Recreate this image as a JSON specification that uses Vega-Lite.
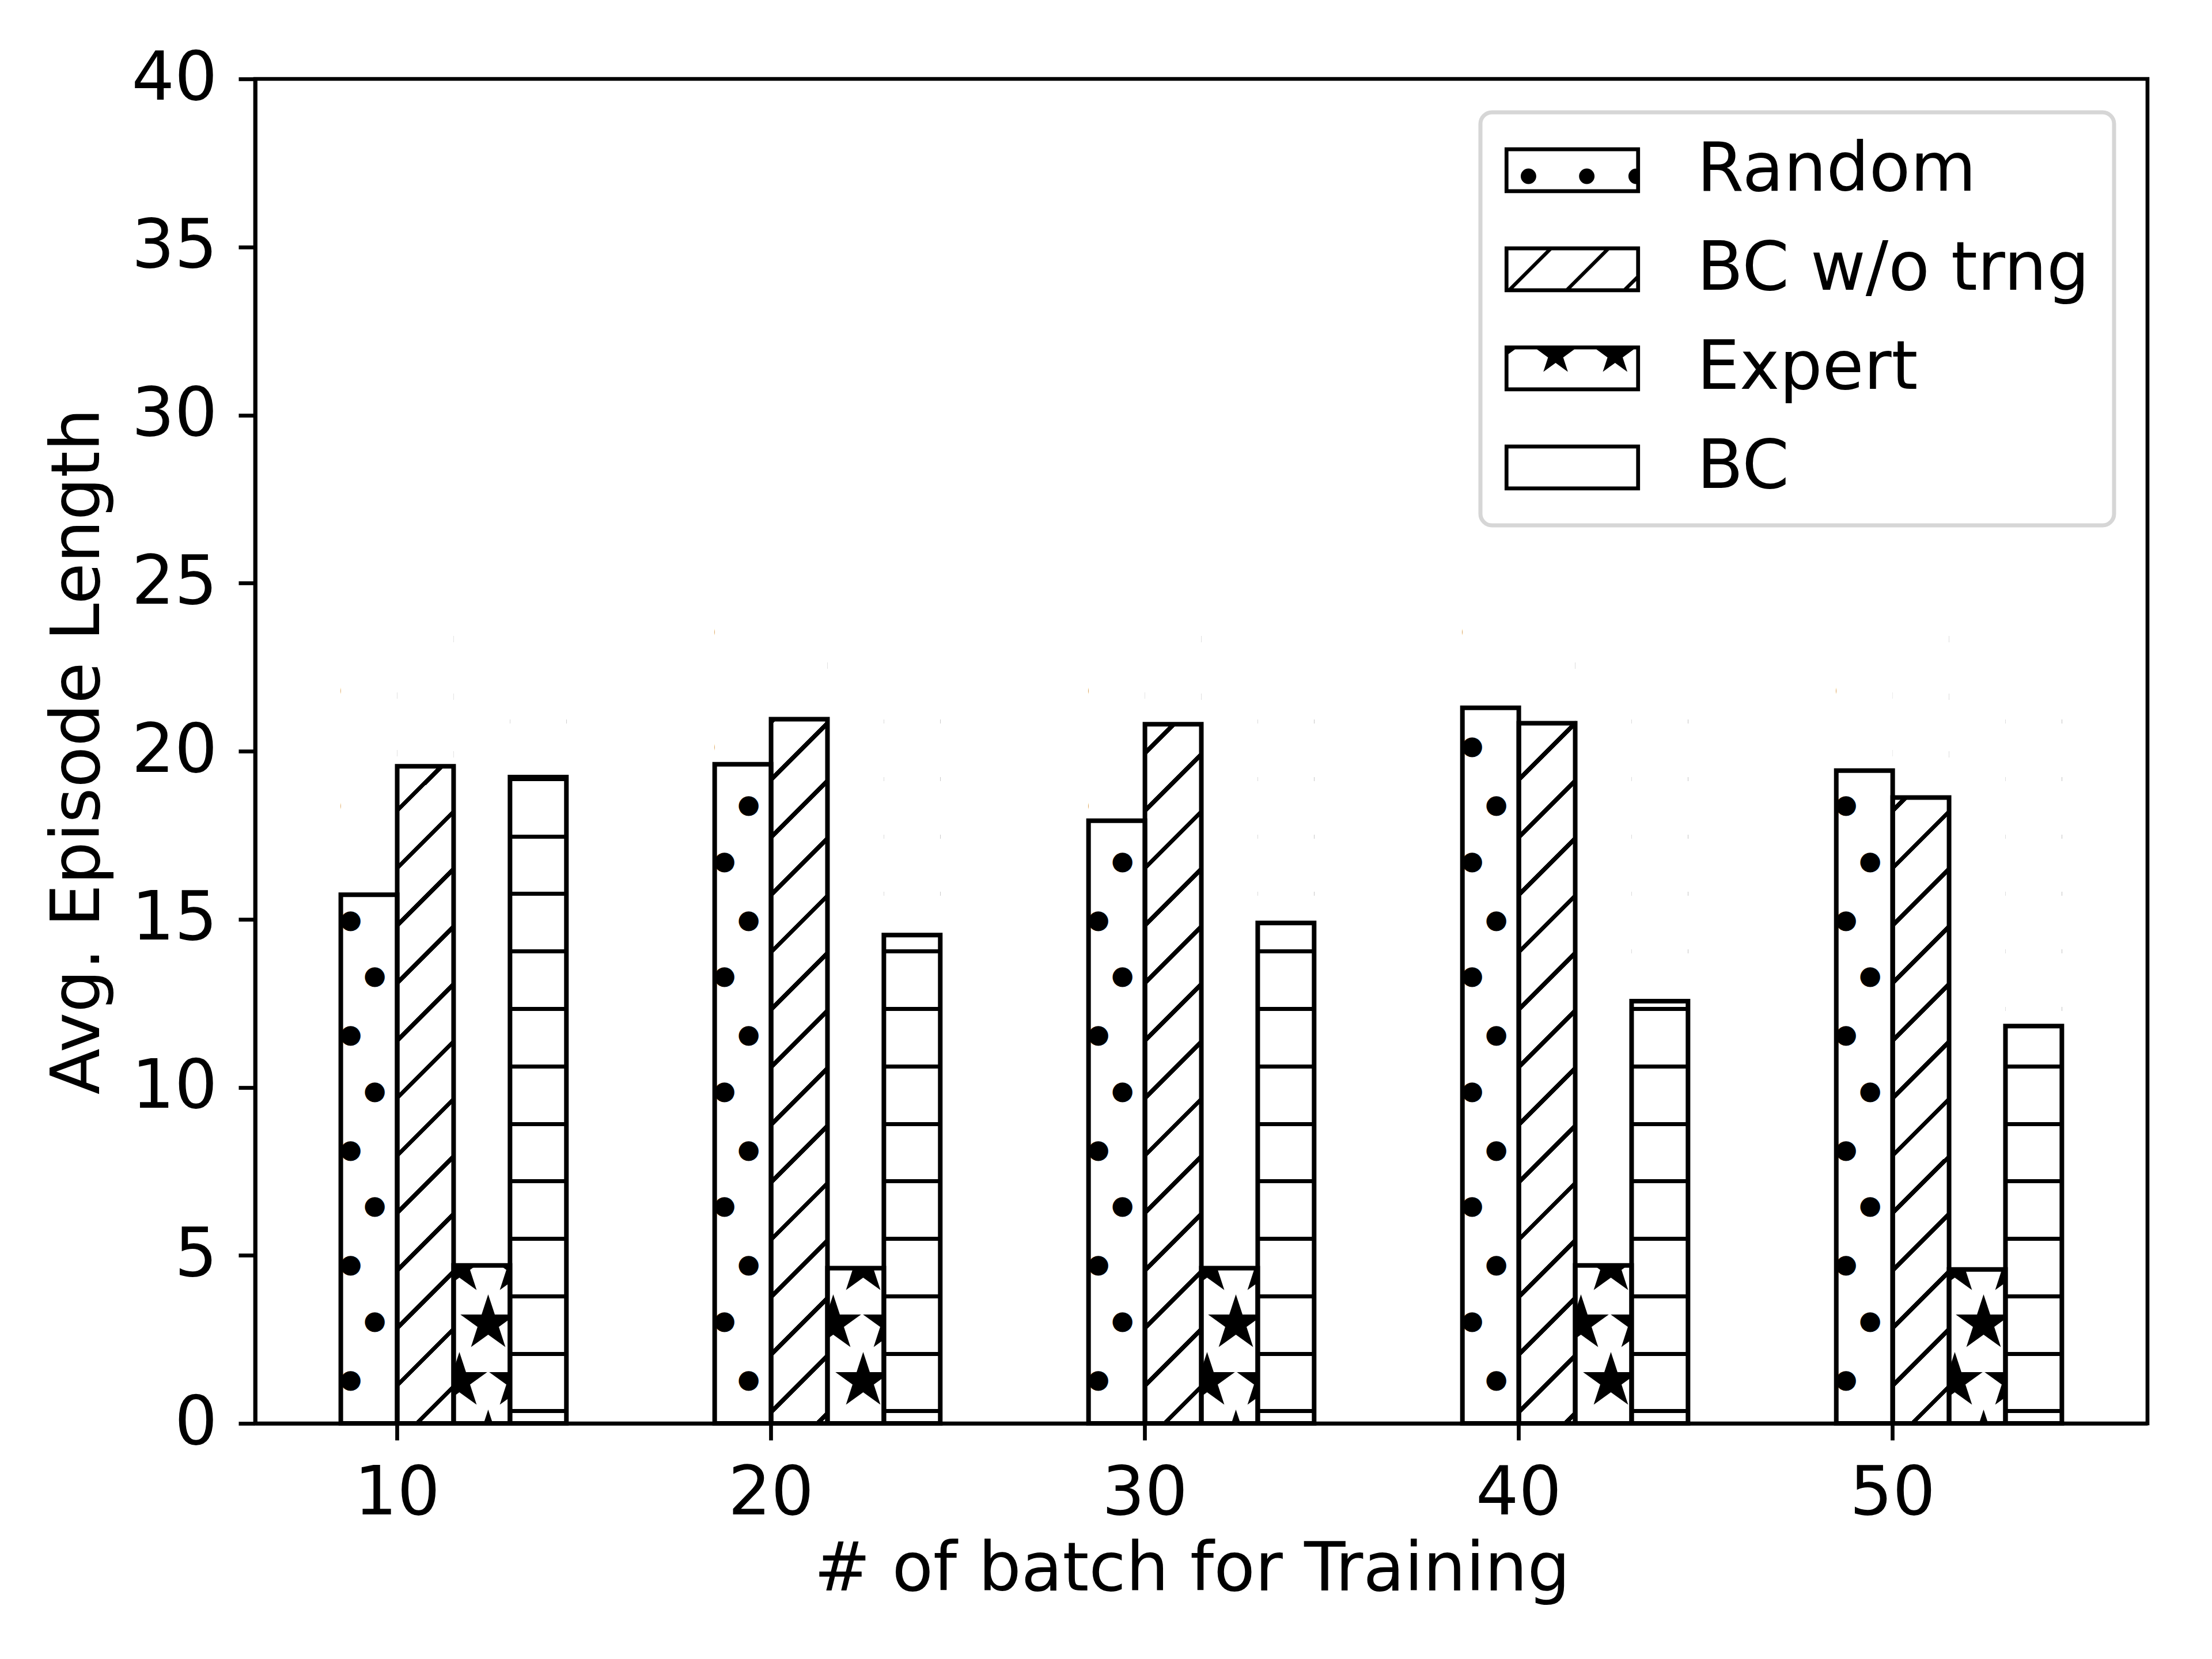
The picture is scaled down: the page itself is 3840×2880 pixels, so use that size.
{
  "$schema": "https://vega.github.io/schema/vega-lite/v6.json",
  "description": "Avg. episode length by number of training batches, hatched bars",
  "background": "white",
  "autosize": "none",
  "padding": {"left": 443, "top": 137, "right": 112, "bottom": 409},
  "width": 3285,
  "height": 2334,
  "data": {"values": [
    {"batch": "10", "series": "Random", "value": 15.73},
    {"batch": "10", "series": "BC w/o trng", "value": 19.55},
    {"batch": "10", "series": "Expert", "value": 4.70},
    {"batch": "10", "series": "BC", "value": 19.23},
    {"batch": "20", "series": "Random", "value": 19.61},
    {"batch": "20", "series": "BC w/o trng", "value": 20.95},
    {"batch": "20", "series": "Expert", "value": 4.62},
    {"batch": "20", "series": "BC", "value": 14.53},
    {"batch": "30", "series": "Random", "value": 17.93},
    {"batch": "30", "series": "BC w/o trng", "value": 20.80},
    {"batch": "30", "series": "Expert", "value": 4.62},
    {"batch": "30", "series": "BC", "value": 14.89},
    {"batch": "40", "series": "Random", "value": 21.29},
    {"batch": "40", "series": "BC w/o trng", "value": 20.83},
    {"batch": "40", "series": "Expert", "value": 4.70},
    {"batch": "40", "series": "BC", "value": 12.56},
    {"batch": "50", "series": "Random", "value": 19.42},
    {"batch": "50", "series": "BC w/o trng", "value": 18.62},
    {"batch": "50", "series": "Expert", "value": 4.58},
    {"batch": "50", "series": "BC", "value": 11.82}
  ]},
  "encoding": {
    "x": {
      "field": "batch", "type": "ordinal",
      "scale": {"paddingInner": 0.3966, "paddingOuter": 0.229},
      "axis": {"title": "# of batch for Training", "labelAngle": 0, "bandPosition": 0.25, "labelOffset": -98, "labelPadding": 36, "titlePadding": 17, "titleX": 1626}
    },
    "xOffset": {
      "field": "series", "type": "nominal",
      "scale": {"domain": ["Random", "BC w/o trng", "Expert", "BC"], "paddingInner": 0, "paddingOuter": 0}
    }
  },
  "layer": [
    {
      "transform": [{"filter": "datum.series == 'Random' && indexof(['10', '30', '50'], datum.batch) >= 0"}],
      "mark": {"type": "text", "text": ["●", "●", "●", "●", "●", "●", "●"], "font": "DejaVu Sans", "fontSize": 45, "color": "black", "baseline": "bottom", "lineHeight": 199.6, "dx": -32, "dy": -1250.6, "clip": true},
      "encoding": {"y": {"datum": 0, "type": "quantitative", "title": "Avg. Episode Length", "scale": {"domain": [0, 40], "nice": false}, "axis": {"values": [0, 5, 10, 15, 20, 25, 30, 35, 40], "format": "d"}}}
    },
    {
      "transform": [{"filter": "datum.series == 'Random' && indexof(['10', '30', '50'], datum.batch) >= 0"}],
      "mark": {"type": "text", "text": ["●", "●", "●", "●", "●", "●", "●"], "font": "DejaVu Sans", "fontSize": 45, "color": "black", "baseline": "bottom", "lineHeight": 199.6, "dx": 10, "dy": -1352.6, "clip": true},
      "encoding": {"y": {"datum": 0, "type": "quantitative", "title": "Avg. Episode Length", "axis": {"values": [0, 5, 10, 15, 20, 25, 30, 35, 40], "format": "d"}}}
    },
    {
      "transform": [{"filter": "datum.series == 'Random' && indexof(['20', '40'], datum.batch) >= 0"}],
      "mark": {"type": "text", "text": ["●", "●", "●", "●", "●", "●", "●"], "font": "DejaVu Sans", "fontSize": 45, "color": "black", "baseline": "bottom", "lineHeight": 199.6, "dx": -32, "dy": -1352.6, "clip": true},
      "encoding": {"y": {"datum": 0, "type": "quantitative", "title": "Avg. Episode Length", "axis": {"values": [0, 5, 10, 15, 20, 25, 30, 35, 40], "format": "d"}}}
    },
    {
      "transform": [{"filter": "datum.series == 'Random' && indexof(['20', '40'], datum.batch) >= 0"}],
      "mark": {"type": "text", "text": ["●", "●", "●", "●", "●", "●", "●"], "font": "DejaVu Sans", "fontSize": 45, "color": "black", "baseline": "bottom", "lineHeight": 199.6, "dx": 10, "dy": -1250.6, "clip": true},
      "encoding": {"y": {"datum": 0, "type": "quantitative", "title": "Avg. Episode Length", "axis": {"values": [0, 5, 10, 15, 20, 25, 30, 35, 40], "format": "d"}}}
    },
    {
      "transform": [{"filter": "datum.series == 'Expert' && indexof(['10', '30', '50'], datum.batch) >= 0"}],
      "mark": {"type": "text", "text": ["★", "★"], "font": "DejaVu Sans", "fontSize": 126, "color": "black", "baseline": "bottom", "lineHeight": 199.6, "dx": -39, "dy": -206.3, "clip": true},
      "encoding": {"y": {"datum": 0, "type": "quantitative", "title": "Avg. Episode Length", "axis": {"values": [0, 5, 10, 15, 20, 25, 30, 35, 40], "format": "d"}}}
    },
    {
      "transform": [{"filter": "datum.series == 'Expert' && indexof(['10', '30', '50'], datum.batch) >= 0"}],
      "mark": {"type": "text", "text": ["★", "★", "★"], "font": "DejaVu Sans", "fontSize": 126, "color": "black", "baseline": "bottom", "lineHeight": 199.6, "dx": 11, "dy": -306.2, "clip": true},
      "encoding": {"y": {"datum": 0, "type": "quantitative", "title": "Avg. Episode Length", "axis": {"values": [0, 5, 10, 15, 20, 25, 30, 35, 40], "format": "d"}}}
    },
    {
      "transform": [{"filter": "datum.series == 'Expert' && indexof(['10', '30', '50'], datum.batch) >= 0"}],
      "mark": {"type": "text", "text": ["★", "★"], "font": "DejaVu Sans", "fontSize": 126, "color": "black", "baseline": "bottom", "lineHeight": 199.6, "dx": 61, "dy": -206.3, "clip": true},
      "encoding": {"y": {"datum": 0, "type": "quantitative", "title": "Avg. Episode Length", "axis": {"values": [0, 5, 10, 15, 20, 25, 30, 35, 40], "format": "d"}}}
    },
    {
      "transform": [{"filter": "datum.series == 'Expert' && indexof(['20', '40'], datum.batch) >= 0"}],
      "mark": {"type": "text", "text": ["★", "★"], "font": "DejaVu Sans", "fontSize": 126, "color": "black", "baseline": "bottom", "lineHeight": 199.6, "dx": -39, "dy": -306.3, "clip": true},
      "encoding": {"y": {"datum": 0, "type": "quantitative", "title": "Avg. Episode Length", "axis": {"values": [0, 5, 10, 15, 20, 25, 30, 35, 40], "format": "d"}}}
    },
    {
      "transform": [{"filter": "datum.series == 'Expert' && indexof(['20', '40'], datum.batch) >= 0"}],
      "mark": {"type": "text", "text": ["★", "★"], "font": "DejaVu Sans", "fontSize": 126, "color": "black", "baseline": "bottom", "lineHeight": 199.6, "dx": 13, "dy": -206.3, "clip": true},
      "encoding": {"y": {"datum": 0, "type": "quantitative", "title": "Avg. Episode Length", "axis": {"values": [0, 5, 10, 15, 20, 25, 30, 35, 40], "format": "d"}}}
    },
    {
      "transform": [{"filter": "datum.series == 'Expert' && indexof(['20', '40'], datum.batch) >= 0"}],
      "mark": {"type": "text", "text": ["★", "★"], "font": "DejaVu Sans", "fontSize": 126, "color": "black", "baseline": "bottom", "lineHeight": 199.6, "dx": 61, "dy": -306.3, "clip": true},
      "encoding": {"y": {"datum": 0, "type": "quantitative", "title": "Avg. Episode Length", "axis": {"values": [0, 5, 10, 15, 20, 25, 30, 35, 40], "format": "d"}}}
    },
    {
      "transform": [{"filter": "datum.series == 'BC w/o trng' && indexof(['10', '30', '50'], datum.batch) >= 0"}],
      "mark": {
        "type": "bar", "strokeWidth": 0,
        "fill": {
          "gradient": "linear", "x1": 0, "y1": 0, "x2": 0.05887, "y2": 1.052628,
          "stops": [
            {"offset": 0, "color": "white"},
            {"offset": 0.26057, "color": "white"}, {"offset": 0.26057, "color": "black"}, {"offset": 0.26637, "color": "black"}, {"offset": 0.26637, "color": "white"},
            {"offset": 0.31456, "color": "white"}, {"offset": 0.31456, "color": "black"}, {"offset": 0.32036, "color": "black"}, {"offset": 0.32036, "color": "white"},
            {"offset": 0.36856, "color": "white"}, {"offset": 0.36856, "color": "black"}, {"offset": 0.37436, "color": "black"}, {"offset": 0.37436, "color": "white"},
            {"offset": 0.42255, "color": "white"}, {"offset": 0.42255, "color": "black"}, {"offset": 0.42835, "color": "black"}, {"offset": 0.42835, "color": "white"},
            {"offset": 0.47654, "color": "white"}, {"offset": 0.47654, "color": "black"}, {"offset": 0.48234, "color": "black"}, {"offset": 0.48234, "color": "white"},
            {"offset": 0.53054, "color": "white"}, {"offset": 0.53054, "color": "black"}, {"offset": 0.53634, "color": "black"}, {"offset": 0.53634, "color": "white"},
            {"offset": 0.58453, "color": "white"}, {"offset": 0.58453, "color": "black"}, {"offset": 0.59033, "color": "black"}, {"offset": 0.59033, "color": "white"},
            {"offset": 0.63852, "color": "white"}, {"offset": 0.63852, "color": "black"}, {"offset": 0.64432, "color": "black"}, {"offset": 0.64432, "color": "white"},
            {"offset": 0.69251, "color": "white"}, {"offset": 0.69251, "color": "black"}, {"offset": 0.69831, "color": "black"}, {"offset": 0.69831, "color": "white"},
            {"offset": 0.74651, "color": "white"}, {"offset": 0.74651, "color": "black"}, {"offset": 0.75231, "color": "black"}, {"offset": 0.75231, "color": "white"},
            {"offset": 0.8005, "color": "white"}, {"offset": 0.8005, "color": "black"}, {"offset": 0.8063, "color": "black"}, {"offset": 0.8063, "color": "white"},
            {"offset": 0.85449, "color": "white"}, {"offset": 0.85449, "color": "black"}, {"offset": 0.86029, "color": "black"}, {"offset": 0.86029, "color": "white"},
            {"offset": 0.90848, "color": "white"}, {"offset": 0.90848, "color": "black"}, {"offset": 0.91428, "color": "black"}, {"offset": 0.91428, "color": "white"},
            {"offset": 0.96248, "color": "white"}, {"offset": 0.96248, "color": "black"}, {"offset": 0.96828, "color": "black"}, {"offset": 0.96828, "color": "white"},
            {"offset": 1, "color": "white"}
          ]
        }
      },
      "encoding": {"y": {"datum": 30, "type": "quantitative", "title": "Avg. Episode Length", "axis": {"values": [0, 5, 10, 15, 20, 25, 30, 35, 40], "format": "d"}}, "y2": {"datum": 0}}
    },
    {
      "transform": [{"filter": "datum.series == 'BC w/o trng' && indexof(['20', '40'], datum.batch) >= 0"}],
      "mark": {
        "type": "bar", "strokeWidth": 0,
        "fill": {
          "gradient": "linear", "x1": 0, "y1": 0, "x2": 0.05887, "y2": 1.052628,
          "stops": [
            {"offset": 0, "color": "white"},
            {"offset": 0.28557, "color": "white"}, {"offset": 0.28557, "color": "black"}, {"offset": 0.29137, "color": "black"}, {"offset": 0.29137, "color": "white"},
            {"offset": 0.33956, "color": "white"}, {"offset": 0.33956, "color": "black"}, {"offset": 0.34536, "color": "black"}, {"offset": 0.34536, "color": "white"},
            {"offset": 0.39356, "color": "white"}, {"offset": 0.39356, "color": "black"}, {"offset": 0.39936, "color": "black"}, {"offset": 0.39936, "color": "white"},
            {"offset": 0.44755, "color": "white"}, {"offset": 0.44755, "color": "black"}, {"offset": 0.45335, "color": "black"}, {"offset": 0.45335, "color": "white"},
            {"offset": 0.50154, "color": "white"}, {"offset": 0.50154, "color": "black"}, {"offset": 0.50734, "color": "black"}, {"offset": 0.50734, "color": "white"},
            {"offset": 0.55554, "color": "white"}, {"offset": 0.55554, "color": "black"}, {"offset": 0.56134, "color": "black"}, {"offset": 0.56134, "color": "white"},
            {"offset": 0.60953, "color": "white"}, {"offset": 0.60953, "color": "black"}, {"offset": 0.61533, "color": "black"}, {"offset": 0.61533, "color": "white"},
            {"offset": 0.66352, "color": "white"}, {"offset": 0.66352, "color": "black"}, {"offset": 0.66932, "color": "black"}, {"offset": 0.66932, "color": "white"},
            {"offset": 0.71751, "color": "white"}, {"offset": 0.71751, "color": "black"}, {"offset": 0.72331, "color": "black"}, {"offset": 0.72331, "color": "white"},
            {"offset": 0.77151, "color": "white"}, {"offset": 0.77151, "color": "black"}, {"offset": 0.77731, "color": "black"}, {"offset": 0.77731, "color": "white"},
            {"offset": 0.8255, "color": "white"}, {"offset": 0.8255, "color": "black"}, {"offset": 0.8313, "color": "black"}, {"offset": 0.8313, "color": "white"},
            {"offset": 0.87949, "color": "white"}, {"offset": 0.87949, "color": "black"}, {"offset": 0.88529, "color": "black"}, {"offset": 0.88529, "color": "white"},
            {"offset": 0.93348, "color": "white"}, {"offset": 0.93348, "color": "black"}, {"offset": 0.93928, "color": "black"}, {"offset": 0.93928, "color": "white"},
            {"offset": 0.98748, "color": "white"}, {"offset": 0.98748, "color": "black"}, {"offset": 0.99328, "color": "black"}, {"offset": 0.99328, "color": "white"},
            {"offset": 1, "color": "white"}
          ]
        }
      },
      "encoding": {"y": {"datum": 30, "type": "quantitative", "title": "Avg. Episode Length", "axis": {"values": [0, 5, 10, 15, 20, 25, 30, 35, 40], "format": "d"}}, "y2": {"datum": 0}}
    },
    {
      "transform": [{"filter": "datum.series == 'BC'"}],
      "mark": {
        "type": "bar", "strokeWidth": 0,
        "fill": {
          "gradient": "linear", "x1": 0, "y1": 1, "x2": 0, "y2": 0,
          "stops": [
            {"offset": 0, "color": "white"},
            {"offset": 0.010, "color": "white"}, {"offset": 0.010, "color": "black"}, {"offset": 0.014, "color": "black"}, {"offset": 0.014, "color": "white"},
            {"offset": 0.067, "color": "white"}, {"offset": 0.067, "color": "black"}, {"offset": 0.071, "color": "black"}, {"offset": 0.071, "color": "white"},
            {"offset": 0.124, "color": "white"}, {"offset": 0.124, "color": "black"}, {"offset": 0.128, "color": "black"}, {"offset": 0.128, "color": "white"},
            {"offset": 0.181, "color": "white"}, {"offset": 0.181, "color": "black"}, {"offset": 0.185, "color": "black"}, {"offset": 0.185, "color": "white"},
            {"offset": 0.238, "color": "white"}, {"offset": 0.238, "color": "black"}, {"offset": 0.242, "color": "black"}, {"offset": 0.242, "color": "white"},
            {"offset": 0.295, "color": "white"}, {"offset": 0.295, "color": "black"}, {"offset": 0.299, "color": "black"}, {"offset": 0.299, "color": "white"},
            {"offset": 0.352, "color": "white"}, {"offset": 0.352, "color": "black"}, {"offset": 0.356, "color": "black"}, {"offset": 0.356, "color": "white"},
            {"offset": 0.409, "color": "white"}, {"offset": 0.409, "color": "black"}, {"offset": 0.413, "color": "black"}, {"offset": 0.413, "color": "white"},
            {"offset": 0.466, "color": "white"}, {"offset": 0.466, "color": "black"}, {"offset": 0.470, "color": "black"}, {"offset": 0.470, "color": "white"},
            {"offset": 0.523, "color": "white"}, {"offset": 0.523, "color": "black"}, {"offset": 0.527, "color": "black"}, {"offset": 0.527, "color": "white"},
            {"offset": 0.580, "color": "white"}, {"offset": 0.580, "color": "black"}, {"offset": 0.584, "color": "black"}, {"offset": 0.584, "color": "white"},
            {"offset": 0.637, "color": "white"}, {"offset": 0.637, "color": "black"}, {"offset": 0.641, "color": "black"}, {"offset": 0.641, "color": "white"},
            {"offset": 0.694, "color": "white"}, {"offset": 0.694, "color": "black"}, {"offset": 0.698, "color": "black"}, {"offset": 0.698, "color": "white"},
            {"offset": 1, "color": "white"}
          ]
        }
      },
      "encoding": {"y": {"datum": 30, "type": "quantitative", "title": "Avg. Episode Length", "axis": {"values": [0, 5, 10, 15, 20, 25, 30, 35, 40], "format": "d"}}, "y2": {"datum": 0}}
    },
    {
      "mark": {"type": "bar", "fill": "white", "strokeWidth": 0},
      "encoding": {"y": {"field": "value", "type": "quantitative", "title": "Avg. Episode Length", "axis": {"values": [0, 5, 10, 15, 20, 25, 30, 35, 40], "format": "d"}}, "y2": {"datum": 30}}
    },
    {
      "mark": {"type": "bar", "fillOpacity": 0, "stroke": "black", "strokeWidth": 8},
      "encoding": {"y": {"field": "value", "type": "quantitative", "title": "Avg. Episode Length", "stack": null, "axis": {"values": [0, 5, 10, 15, 20, 25, 30, 35, 40], "format": "d"}}}
    },
    {
      "mark": {"type": "point", "filled": true, "color": "black", "clip": true},
      "encoding": {
        "y": {"datum": -100, "type": "quantitative", "title": "Avg. Episode Length", "axis": {"values": [0, 5, 10, 15, 20, 25, 30, 35, 40], "format": "d"}},
        "shape": {
          "field": "series", "type": "nominal",
          "scale": {
            "domain": ["Random", "BC w/o trng", "Expert", "BC"],
            "range": [
              "M-2.01,-0.68H2.01V0.68H-2.01Z M-1.895,-0.565V0.565H1.895V-0.565Z M-1.53,0.18A0.23,0.23,0,1,0,-1.07,0.18A0.23,0.23,0,1,0,-1.53,0.18Z M0.2,0.18A0.23,0.23,0,1,0,0.66,0.18A0.23,0.23,0,1,0,0.2,0.18Z M1.895,-0.05A0.23,0.23,0,0,0,1.895,0.41Z",
              "M-2.01,-0.68H2.01V0.68H-2.01Z M-1.895,-0.565V0.565H1.895V-0.565Z M-0.765,-0.565L-0.615,-0.565L-1.745,0.565L-1.895,0.565Z M0.945,-0.565L1.095,-0.565L-0.035,0.565L-0.185,0.565Z M1.525,0.565L1.675,0.565L1.895,0.345L1.895,0.195Z",
              "M-2.01,-0.68H2.01V0.68H-2.01Z M-1.895,-0.565V0.565H1.895V-0.565Z M-1.895,-0.5916L-1.665,-0.5916L-1.895,-0.4248Z M-0.6055,-0.68L-0.3845,-0.68L-0.3558,-0.5916L0.0947,-0.5916L-0.2698,-0.3268L-0.1306,0.1016L-0.495,-0.1632L-0.8594,0.1016L-0.7202,-0.3268L-1.0847,-0.5916L-0.6342,-0.5916Z M1.1595,-0.68L1.3805,-0.68L1.4092,-0.5916L1.8597,-0.5916L1.4952,-0.3268L1.6344,0.1016L1.27,-0.1632L0.9056,0.1016L1.0448,-0.3268L0.6803,-0.5916L1.1308,-0.5916Z",
              "M-2.01,-0.68H2.01V0.68H-2.01Z M-1.895,-0.565V0.565H1.895V-0.565Z"
            ]
          },
          "legend": {"title": null}
        }
      }
    }
  ],
  "config": {
    "view": {"stroke": "black", "strokeWidth": 6.7},
    "font": "DejaVu Sans",
    "axis": {
      "grid": false, "zindex": 1,
      "domainColor": "black", "domainWidth": 6.7,
      "tickColor": "black", "tickWidth": 6.7, "tickSize": 29,
      "labelFont": "DejaVu Sans", "labelFontSize": 117, "labelColor": "black",
      "titleFont": "DejaVu Sans", "titleFontSize": 117, "titleColor": "black", "titleFontWeight": "normal"
    },
    "axisY": {"labelPadding": 37, "titlePadding": 47},
    "legend": {
      "orient": "top-right", "offset": 58, "padding": 42,
      "fillColor": "white", "strokeColor": "#d6d6d6", "strokeWidth": 7, "cornerRadius": 20,
      "labelFont": "DejaVu Sans", "labelFontSize": 117, "labelColor": "black", "labelLimit": 0,
      "symbolSize": 13689, "symbolFillColor": "black", "symbolStrokeWidth": 0, "symbolOpacity": 1,
      "symbolOffset": 59, "labelOffset": 158, "rowPadding": 54
    }
  }
}
